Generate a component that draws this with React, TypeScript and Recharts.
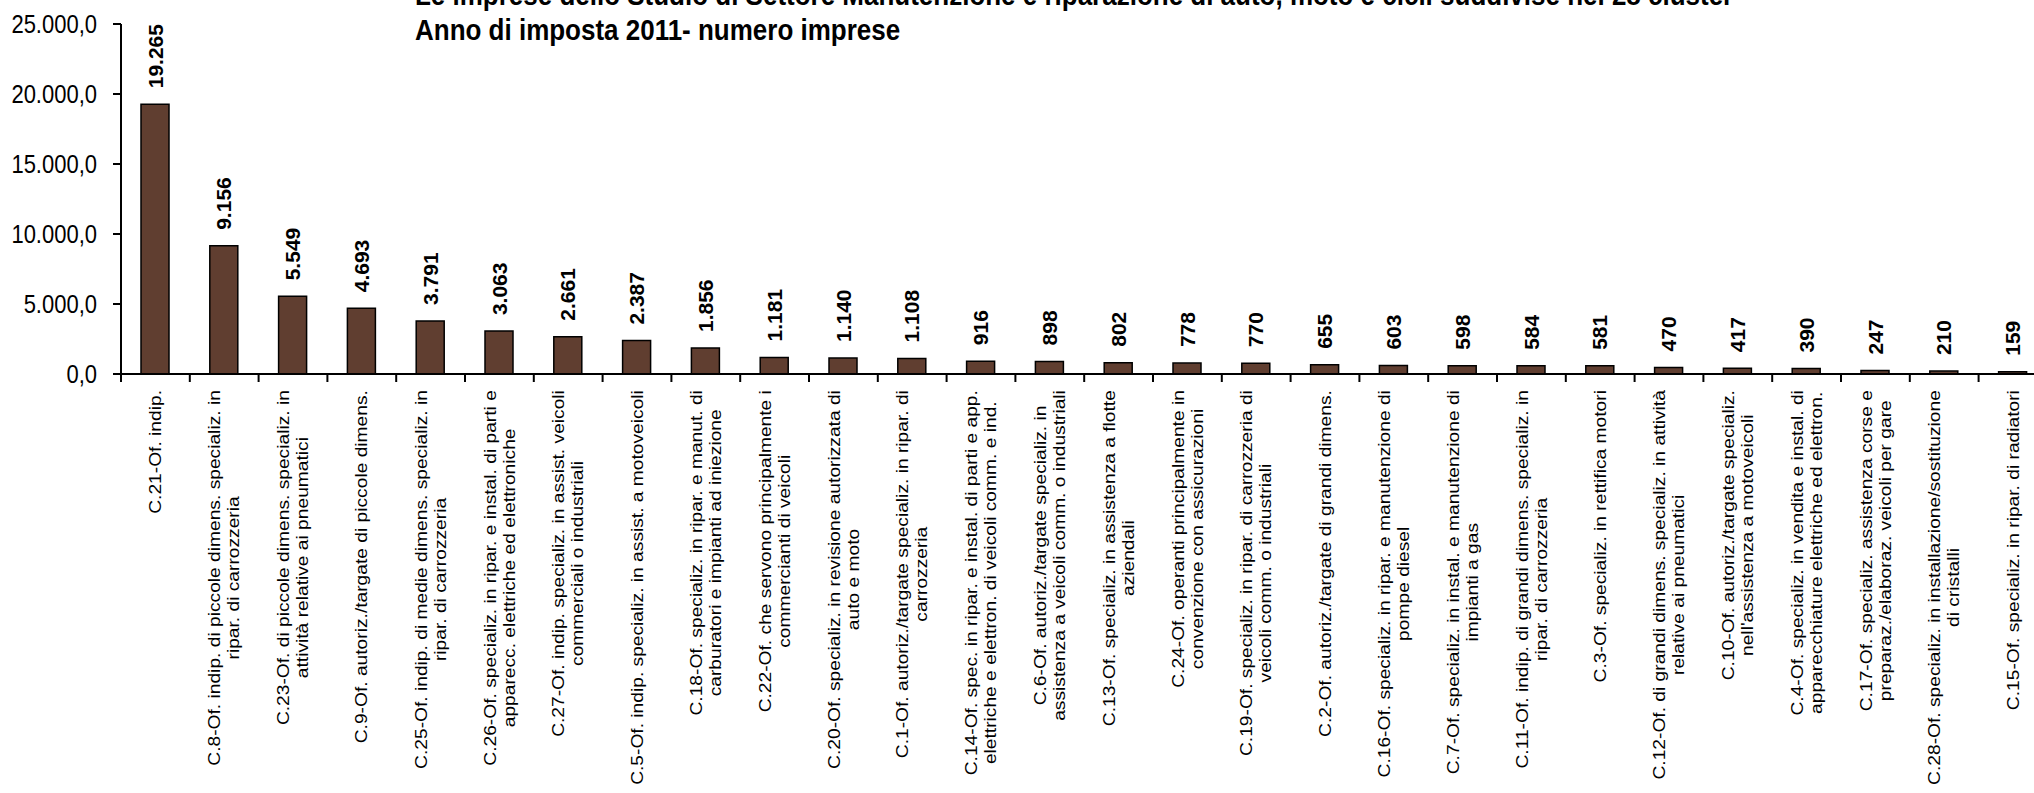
import { Bar, BarChart, LabelList, XAxis, YAxis } from 'recharts'

const categories = [
  'C.21-Of. indip.',
  'C.8-Of. indip. di piccole dimens. specializ. in\nripar. di carrozzeria',
  'C.23-Of. di piccole dimens. specializ. in\nattività relative ai pneumatici',
  'C.9-Of. autoriz./targate di piccole dimens.',
  'C.25-Of. indip. di medie dimens. specializ. in\nripar. di carrozzeria',
  'C.26-Of. specializ. in ripar. e instal. di parti e\napparecc. elettriche ed elettroniche',
  'C.27-Of. indip. specializ. in assist. veicoli\ncommerciali o industriali',
  'C.5-Of. indip. specializ. in assist. a motoveicoli',
  'C.18-Of. specializ. in ripar. e manut. di\ncarburatori e impianti ad iniezione',
  'C.22-Of. che servono principalmente i\ncommercianti di veicoli',
  'C.20-Of. specializ. in revisione autorizzata di\nauto e moto',
  'C.1-Of. autoriz./targate specializ. in ripar. di\ncarrozzeria',
  'C.14-Of. spec. in ripar. e instal. di parti e app.\nelettriche e elettron. di veicoli comm. e ind.',
  'C.6-Of. autoriz./targate specializ. in\nassistenza a veicoli comm. o industriali',
  'C.13-Of. specializ. in assistenza a flotte\naziendali',
  'C.24-Of. operanti principalmente in\nconvenzione con assicurazioni',
  'C.19-Of. specializ. in ripar. di carrozzeria di\nveicoli comm. o industriali',
  'C.2-Of. autoriz./targate di grandi dimens.',
  'C.16-Of. specializ. in ripar. e manutenzione di\npompe diesel',
  'C.7-Of. specializ. in instal. e manutenzione di\nimpianti a gas',
  'C.11-Of. indip. di grandi dimens. specializ. in\nripar. di carrozzeria',
  'C.3-Of. specializ. in rettifica motori',
  'C.12-Of. di grandi dimens. specializ. in attività\nrelative ai pneumatici',
  'C.10-Of. autoriz./targate specializ.\nnell\'assistenza a motoveicoli',
  'C.4-Of. specializ. in vendita e instal. di\napparecchiature elettriche ed elettron.',
  'C.17-Of. specializ. assistenza corse e\npreparaz./elaboraz. veicoli per gare',
  'C.28-Of. specializ. in installazione/sostituzione\ndi cristalli',
  'C.15-Of. specializ. in ripar. di radiatori',
]

const imprese = [19265, 9156, 5549, 4693, 3791, 3063, 2661, 2387, 1856, 1181, 1140, 1108, 916, 898, 802, 778, 770, 655, 603, 598, 584, 581, 470, 417, 390, 247, 210, 159]

const yTicks = [0, 5000, 10000, 15000, 20000, 25000]

const titleLines = [
  'Le imprese dello Studio di Settore Manutenzione e riparazione di auto, moto e cicli suddivise nei 28 cluster',
  'Anno di imposta 2011- numero imprese',
]

const data = categories.map((name, i) => ({ name, value: imprese[i] }))

const font = "'Liberation Sans', Arial, sans-serif"
const band = 68.8
const catSize = 17
const catStretch = 1.13
const catLine = 19

let ctx: CanvasRenderingContext2D | null = null
function measure(s: string, size: number) {
  if (!ctx) ctx = document.createElement('canvas').getContext('2d')
  if (!ctx) return s.length * size * 0.5
  ctx.font = `${size}px ${font}`
  return ctx.measureText(s).width
}

const thousands = (v: number) => String(Math.round(v)).replace(/\B(?=(\d{3})+(?!\d))/g, '.')

function CategoryTick(props: any) {
  const { x, y, payload } = props
  const lines = String(payload.value).split('\n')
  const maxW = Math.max(...lines.map((l) => measure(l, catSize)))
  const n = lines.length
  return (
    <g>
      <line x1={x - band / 2} x2={x - band / 2} y1={y} y2={y + 8} stroke="#000" strokeWidth={2} />
      <text transform={`translate(${x},${y + 16}) scale(1,${catStretch}) rotate(-90)`} fontSize={catSize} fontFamily={font} fill="#000">
        {lines.map((l, i) => (
          <tspan key={i} x={-maxW / 2} y={(i - (n - 1) / 2) * catLine} textAnchor="middle" dominantBaseline="central">
            {l}
          </tspan>
        ))}
      </text>
    </g>
  )
}

function ValueTick(props: any) {
  const { x, y, payload } = props
  return (
    <text transform={`translate(${x},${y}) scale(1,1.14)`} textAnchor="end" dominantBaseline="central" fontSize={22} fontFamily={font} fill="#000">
      {`${thousands(payload.value)},0`}
    </text>
  )
}

function ValueLabel(props: any) {
  const { x, y, width, value } = props
  const cx = x + width / 2
  const ty = y - 16
  return (
    <text transform={`translate(${cx},${ty}) rotate(-90)`} textAnchor="start" dominantBaseline="central" fontSize={21} fontWeight="bold" fontFamily={font} fill="#000">
      {thousands(value)}
    </text>
  )
}

export default function App() {
  return (
    <div style={{ position: 'fixed', left: 0, top: 0, width: 2034, height: 793, overflow: 'hidden', background: '#fff' }}>
      <BarChart width={2060} height={793} data={data} margin={{ top: 24, right: 12.6, left: 0, bottom: 0 }} barSize={28}>
        <YAxis
          width={121}
          domain={[0, 25000]}
          ticks={yTicks}
          tick={<ValueTick />}
          axisLine={{ stroke: '#000', strokeWidth: 2 }}
          tickLine={{ stroke: '#000', strokeWidth: 2 }}
          tickSize={8}
          tickMargin={16}
          allowDataOverflow
        />
        <XAxis
          dataKey="name"
          height={419}
          interval={0}
          tick={<CategoryTick />}
          tickLine={false}
          tickSize={0}
          tickMargin={0}
          axisLine={{ stroke: '#000', strokeWidth: 2 }}
        />
        <Bar dataKey="value" fill="#603e30" stroke="#000" strokeWidth={1.5} isAnimationActive={false}>
          <LabelList dataKey="value" content={<ValueLabel />} />
        </Bar>
      </BarChart>
      <svg width={2034} height={60} style={{ position: 'absolute', left: 0, top: 0 }}>
        {titleLines.map((t, i) => (
          <text key={i} transform={`translate(415,${5 + i * 35}) scale(1,1.15)`} fontSize={26} fontWeight="bold" fontFamily={font} fill="#000">
            {t}
          </text>
        ))}
      </svg>
    </div>
  )
}
